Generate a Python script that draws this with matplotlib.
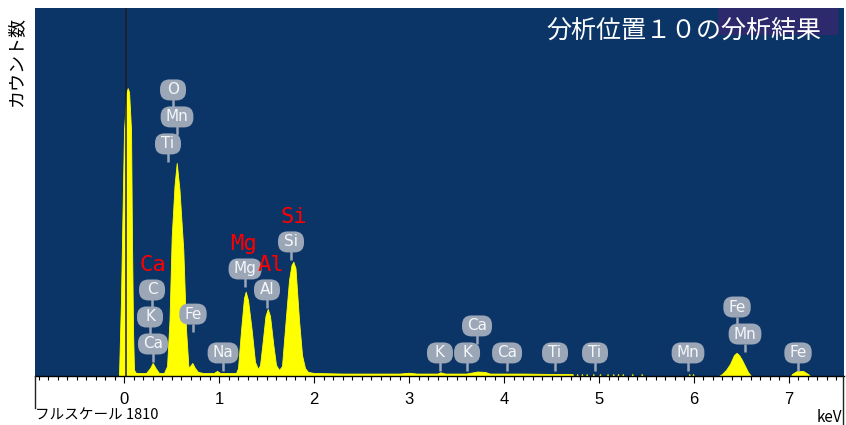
import numpy as np
import matplotlib
matplotlib.use("Agg")
import matplotlib.pyplot as plt
from matplotlib.patches import FancyBboxPatch, Rectangle
from matplotlib.lines import Line2D
from matplotlib.transforms import IdentityTransform

# ---------------------------------------------------------------- data
full_scale = 1810                 # counts at the top of the plot
energy_min, energy_max = -0.937, 7.579   # keV

# EDS spectrum (keV, counts)
spec_energy = [
    -0.053, -0.032, -0.021, 0.000, 0.026, 0.039, 0.053, 0.074, 0.084, 0.095, 0.105, 0.126,
    0.200, 0.232, 0.274, 0.302, 0.332, 0.368, 0.410,
    0.421, 0.453, 0.479, 0.502, 0.532, 0.555, 0.584, 0.624, 0.653, 0.679,
    0.695, 0.719, 0.747, 0.779, 0.832,
    0.947, 0.979, 1.011, 1.147,
    1.179, 1.200, 1.232, 1.263, 1.281, 1.305, 1.344, 1.379, 1.411,
    1.432, 1.456, 1.489, 1.513, 1.537, 1.572, 1.600, 1.632,
    1.663, 1.702, 1.737, 1.763, 1.782, 1.805, 1.842, 1.874, 1.905, 1.937,
    2.000, 2.300, 2.600, 2.900, 3.000, 3.080, 3.300, 3.330, 3.380, 3.600,
    3.720, 3.800, 3.850, 4.200, 4.500, 4.720, 4.730,
    4.762, 4.770, 4.778, 4.812, 4.820, 4.828, 4.862, 4.870, 4.878,
    4.932, 4.940, 4.948, 5.002, 5.010, 5.018, 5.082, 5.090, 5.098,
    5.142, 5.150, 5.158, 5.192, 5.200, 5.208, 5.242, 5.250, 5.258,
    5.342, 5.350, 5.358, 5.442, 5.450, 5.458,
    5.942, 5.950, 5.958, 5.982, 5.990, 5.998,
    6.263, 6.295, 6.337, 6.379, 6.421, 6.449, 6.474, 6.505, 6.537, 6.568, 6.600,
    7.021, 7.032, 7.084, 7.147, 7.200, 7.221,
]
spec_counts = [
    0, 374, 669, 1210, 1397, 1416, 1397, 1210, 669, 226, 30, 15,
    15, 15, 39, 64, 39, 15, 15,
    15, 49, 276, 684, 939, 1048, 915, 620, 226, 39,
    49, 64, 39, 20, 15,
    15, 25, 15, 15,
    15, 39, 226, 384, 415, 374, 226, 69, 34,
    54, 152, 295, 330, 295, 152, 54, 30,
    49, 275, 472, 546, 562, 531, 275, 103, 39, 20,
    15, 12, 12, 12, 16, 12, 12, 18, 12, 12,
    22, 20, 12, 12, 10, 10, 0,
    0, 10, 0, 0, 10, 0, 0, 10, 0,
    0, 10, 0, 0, 10, 0, 0, 10, 0,
    0, 10, 0, 0, 10, 0, 0, 10, 0,
    0, 10, 0, 0, 10, 0,
    0, 10, 0, 0, 10, 0,
    0, 10, 30, 59, 103, 114, 103, 79, 49, 20, 0,
    0, 10, 25, 25, 10, 0,
]

# Element line markers: symbol, energy (keV), count the marker stack stands on,
# and the slot within its stack (0 = lowest)
marker_symbol = ["Ca", "K", "C", "Ti", "Mn", "O", "Fe", "Na", "Mg", "Al", "Si",
                 "K", "K", "Ca", "Ca", "Ti", "Ti", "Mn", "Mn", "Fe", "Fe"]
marker_energy = [0.305, 0.274, 0.295, 0.463, 0.558, 0.516, 0.726, 1.042, 1.274, 1.505, 1.758,
                 3.326, 3.611, 3.716, 4.032, 4.537, 4.958, 5.937, 6.537, 6.453, 7.095]
marker_base = [64, 64, 64, 1048, 1048, 1048, 211, 20, 433, 330, 566,
               20, 20, 20, 20, 20, 20, 20, 113, 113, 20]
marker_level = [0, 1, 2, 0, 1, 2, 0, 0, 0, 0, 0,
                0, 0, 1, 0, 0, 0, 0, 0, 1, 0]

# Identified main elements (red labels) with the stack they sit on
major_symbol = ["Ca", "Mg", "Al", "Si"]
major_energy = [0.305, 1.263, 1.545, 1.789]
major_base = [64, 433, 330, 566]
major_top_level = [2, 0, 0, 0]

xtick_values = list(range(0, 8))

# ---------------------------------------------------------------- figure
W, H = 846, 425
L, R, T, B = 35, 844, 8, 376
BG = "#0b3567"
YEL = "#ffff00"
BUBBLE = "#9ba6b7"
CJK = ["Noto Sans CJK JP", "DejaVu Sans"]

fig = plt.figure(figsize=(W / 100, H / 100), dpi=100)
fig.patch.set_facecolor("white")
ax = fig.add_axes([L / W, 1 - B / H, (R - L) / W, (B - T) / H])
ax.set_facecolor(BG)
ax.set_xlim(energy_min, energy_max)
ax.set_ylim(0, full_scale)

ax.fill_between(spec_energy, spec_counts, 0, facecolor=YEL, edgecolor=YEL,
                linewidth=0.6, zorder=2)
ax.axvline(0.02, color="#1e1e1e", lw=1.1, zorder=3)

for side in ("top", "left", "right"):
    ax.spines[side].set_visible(False)
ax.spines["bottom"].set_color("black")
ax.spines["bottom"].set_linewidth(1.0)
ax.set_yticks([])
ax.set_xticks(xtick_values)
ax.set_xticklabels([str(v) for v in xtick_values])
ax.set_xticks(np.arange(-0.9, 7.55, 0.1), minor=True)
ax.tick_params(axis="x", which="major", direction="out", length=5, width=0.8,
               color="black", pad=6.5, labelsize=12)
ax.tick_params(axis="x", which="minor", direction="out", length=3, width=0.8,
               color="black")
for lab in ax.get_xticklabels():
    lab.set_fontfamily("Liberation Sans")

# frame edges of the energy scale strip
fig.add_artist(Line2D([L / W, L / W], [1 - B / H, 1 - 408 / H], color="#222222",
                      lw=1.0, transform=fig.transFigure))
fig.add_artist(Line2D([(R - 1) / W, (R - 1) / W], [1 - B / H, 0], color="#222222",
                      lw=1.0, transform=fig.transFigure))

# ---------------------------------------------------------------- markers
renderer = fig.canvas.get_renderer()
to_px = ax.transData.transform
STEP, LIFT, BH = 27, 19, 21

for sym, e, base, lvl in zip(marker_symbol, marker_energy, marker_base, marker_level):
    bx, by = to_px((e, base))
    cy = by + LIFT + STEP * lvl
    t = ax.text(bx, cy, sym, transform=IdentityTransform(), ha="center", va="center",
                fontsize=11, color="#f4f6f8", family="DejaVu Sans", zorder=7,
                clip_on=False)
    tw = t.get_window_extent(renderer).width
    bw = max(26, tw + 10)
    ax.add_patch(FancyBboxPatch((bx - bw / 2, cy - BH / 2), bw, BH,
                                boxstyle=f"round,pad=0,rounding_size={BH / 2 - 1}",
                                fc=BUBBLE, ec="none", transform=IdentityTransform(),
                                zorder=6, clip_on=False))
    ax.add_line(Line2D([bx, bx], [cy - BH / 2 + 1, cy - LIFT + 1], color=BUBBLE, lw=1.8,
                       transform=IdentityTransform(), zorder=5, solid_capstyle="butt"))

for sym, e, base, lvl in zip(major_symbol, major_energy, major_base, major_top_level):
    bx, by = to_px((e, base))
    cy = by + LIFT + STEP * lvl + 25
    ax.text(bx, cy, sym, transform=IdentityTransform(), ha="center", va="center",
            fontsize=16, color="#ff0000", family="DejaVu Sans Mono", zorder=8)

# ---------------------------------------------------------------- texts
fig.add_artist(Rectangle((718 / W, 1 - 35 / H), 120 / W, 27 / H, transform=fig.transFigure,
                         fc="#2c2a6c", ec="none", zorder=1))
fig.text(684 / W, 1 - 31 / H, "分析位置１０の分析結果", ha="center", va="center",
         fontsize=18, color="white", family=CJK, zorder=3)
fig.text(16 / W, 1 - 62 / H, "カウント数", rotation=90, ha="center", va="center",
         fontsize=13, color="black", family=CJK)
fig.text(35 / W, 1 - 416 / H, f"フルスケール {full_scale}", ha="left", va="center",
         fontsize=10.5, color="black", family=CJK)
fig.text(842 / W, 1 - 417 / H, "keV", ha="right", va="center",
         fontsize=11, color="black", family=CJK)

fig.savefig("out.png", dpi=100, facecolor="white")
